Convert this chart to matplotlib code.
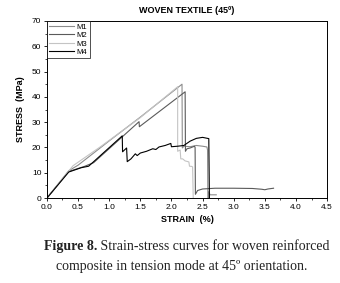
import numpy as np
import matplotlib
matplotlib.use('Agg')
import matplotlib.pyplot as plt
from matplotlib.ticker import MultipleLocator, FormatStrFormatter

# strain (%) / stress (MPa)
m1_strain = [0, 0.35, 0.5, 1.0, 1.5, 2.17, 2.175, 2.2, 2.3, 2.4, 2.5, 2.57, 2.58, 2.585, 2.6, 2.6, 2.62, 2.72]
m1_stress = [0, 10.8, 13.0, 22.6, 32.0, 45.0, 19.8, 20.5, 20.3, 20.8, 20.5, 20.2, 19.0, 0.0, 0.0, 2.5, 1.3, 1.3]

m2_strain = [0, 0.35, 0.6, 0.75, 1.48, 1.485, 2.22, 2.225, 2.25, 2.3, 2.37, 2.38, 2.385,
             2.42, 2.5, 2.7, 3.0, 3.3, 3.45, 3.5, 3.55, 3.64]
m2_stress = [0, 10.5, 12.5, 14.0, 30.2, 28.2, 42.0, 18.5, 19.5, 19.8, 20.5, 20.0, 1.5,
             3.0, 3.6, 3.9, 3.9, 3.8, 3.5, 3.3, 3.6, 3.9]

m3_strain = [0, 0.36, 0.42, 0.86, 1.5, 2.09, 2.10, 2.10, 2.14, 2.15, 2.18, 2.22, 2.28, 2.29, 2.33, 2.34, 2.35]
m3_stress = [0, 11.0, 12.8, 20.3, 31.8, 43.8, 44.0, 18.5, 19.0, 15.5, 15.5, 14.7, 14.3, 12.6, 12.5, 12.3, 0.0]

m4_strain = [0, 0.35, 0.55, 0.67, 1.21, 1.215, 1.28, 1.29, 1.35, 1.42, 1.45, 1.5, 1.6, 1.7, 1.75,
             1.8, 1.9, 1.99, 2.0, 2.1, 2.2, 2.3, 2.4, 2.5, 2.6, 2.61]
m4_stress = [0, 10.3, 12.0, 12.6, 24.6, 18.3, 19.8, 14.4, 15.5, 17.5, 16.8, 17.8, 18.5, 19.5, 19.2,
             20.2, 20.8, 21.6, 20.3, 20.5, 20.8, 22.5, 23.6, 24.0, 23.5, 0.0]

series = [('M1', m1_strain, m1_stress, '#8c8c8c'),
          ('M2', m2_strain, m2_stress, '#5a5a5a'),
          ('M3', m3_strain, m3_stress, '#c4c4c4'),
          ('M4', m4_strain, m4_stress, '#000000')]

plt.rcParams['font.family'] = ['Liberation Sans', 'DejaVu Sans']
serif = ['Liberation Serif', 'DejaVu Serif']

fig = plt.figure(figsize=(3.4, 2.83), dpi=100)
ax = fig.add_axes([0.138, 0.300, 0.824, 0.626])

for name, x, y, c in series:
    ax.plot(x, y, color=c, linewidth=0.8, label=name)

ax.set_xlim(0, 4.5)
ax.set_ylim(0, 70)
ax.xaxis.set_major_locator(MultipleLocator(0.5))
ax.xaxis.set_minor_locator(MultipleLocator(0.25))
ax.yaxis.set_major_locator(MultipleLocator(10))
ax.yaxis.set_minor_locator(MultipleLocator(5))
ax.xaxis.set_major_formatter(FormatStrFormatter('%.1f'))
ax.tick_params(which='major', labelsize=6, length=2.5, width=0.6, pad=1.5)
ax.tick_params(which='minor', length=1.5, width=0.5)
for s in ax.spines.values():
    s.set_linewidth(0.7)

ax.set_xlabel('STRAIN  (%)', fontsize=6.5, fontweight='bold', labelpad=3)
ax.set_ylabel('STRESS  (MPa)', fontsize=6.5, fontweight='bold', labelpad=5)
ax.set_title('WOVEN TEXTILE (45º)', fontsize=6.5, fontweight='bold', pad=6)

leg = ax.legend(loc='upper left', fontsize=5.5, frameon=True, fancybox=False,
                edgecolor='black', borderpad=0.3, handlelength=3.2, handletextpad=0.4,
                labelspacing=0.15, borderaxespad=0.0)
leg.get_frame().set_linewidth(0.6)

# caption: bold "Figure 8." followed by normal text
t1 = fig.text(0.128, 0.118, 'Figure 8.', fontsize=10, fontweight='bold',
              family=serif, color='#222222')
ax.annotate(' Strain-stress curves for woven reinforced', xy=(1, 0), xycoords=t1,
            fontsize=10, family=serif, color='#222222',
            va='bottom', ha='left', annotation_clip=False)
fig.text(0.535, 0.045, 'composite in tension mode at 45º orientation.', fontsize=10,
         family=serif, color='#222222', ha='center')

fig.savefig('out.png', dpi=100)
